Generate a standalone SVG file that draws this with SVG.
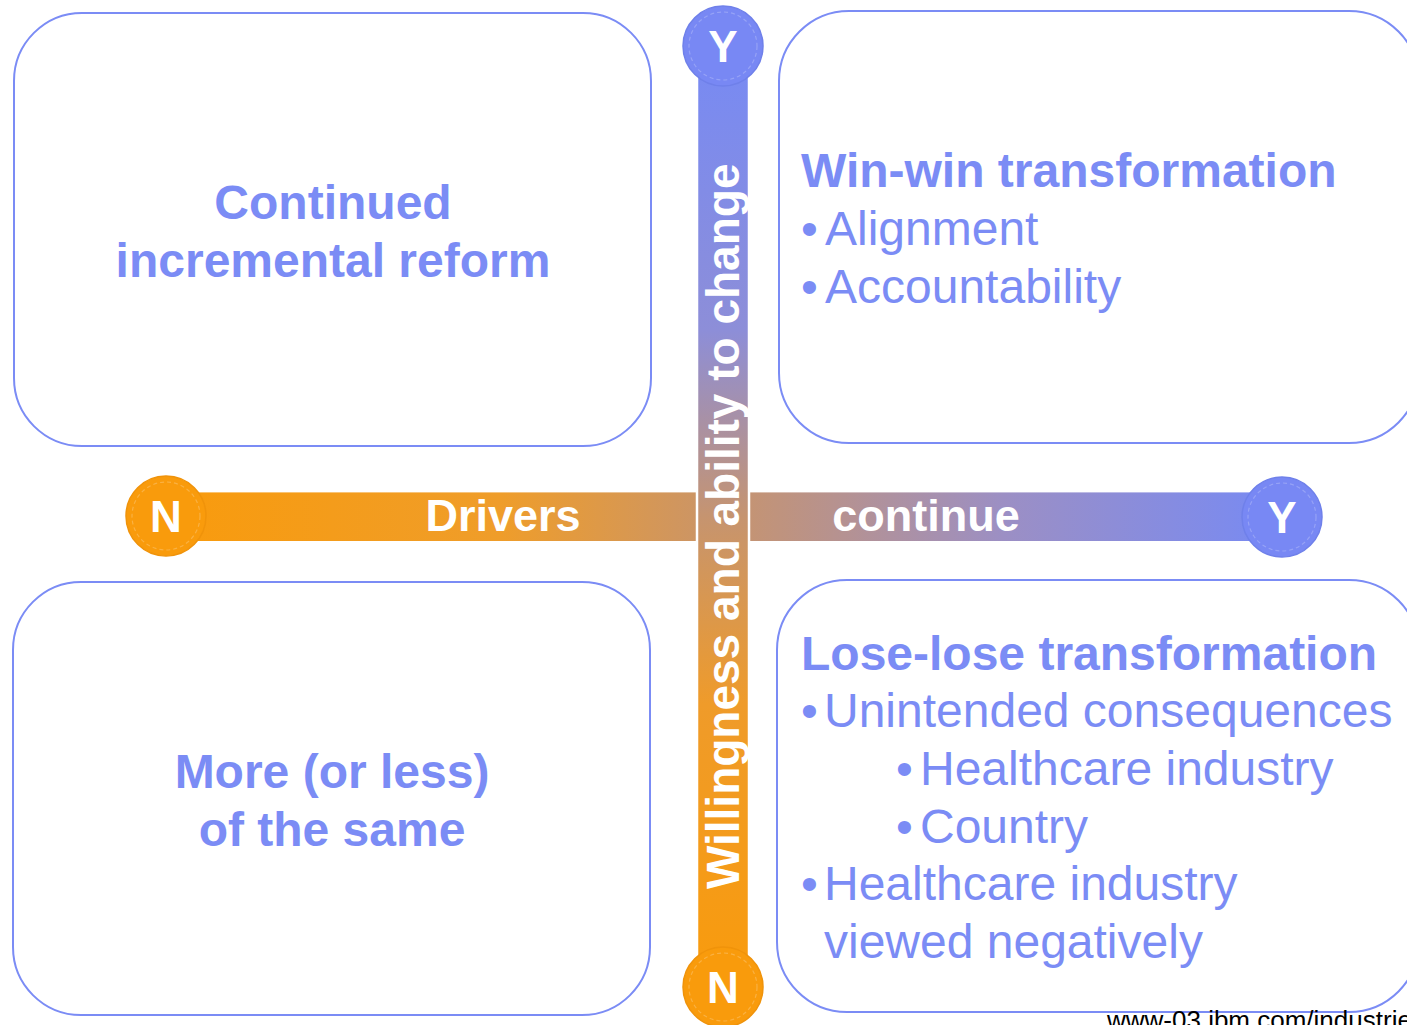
<svg xmlns="http://www.w3.org/2000/svg" width="1407" height="1025" viewBox="0 0 1407 1025">
<defs>
<linearGradient id="hgrad" x1="165" y1="0" x2="1282" y2="0" gradientUnits="userSpaceOnUse">
<stop offset="0" stop-color="#f99b0c"/>
<stop offset="0.3" stop-color="#ef9d2a"/>
<stop offset="0.5" stop-color="#c8946c"/>
<stop offset="0.75" stop-color="#9c8fc4"/>
<stop offset="1" stop-color="#778af4"/>
</linearGradient>
<linearGradient id="vgrad" x1="0" y1="50" x2="0" y2="985" gradientUnits="userSpaceOnUse">
<stop offset="0" stop-color="#778af4"/>
<stop offset="0.3" stop-color="#8d8ed8"/>
<stop offset="0.5" stop-color="#c6946f"/>
<stop offset="0.7" stop-color="#ef9b2a"/>
<stop offset="1" stop-color="#f99b0c"/>
</linearGradient>
<style>
.box{fill:#fff;stroke:#7b8cf5;stroke-width:2}
.title{font-family:"Liberation Sans",Arial,sans-serif;font-weight:bold;font-size:48px;fill:#7b8cf5}
.item{font-family:"Liberation Sans",Arial,sans-serif;font-size:48px;fill:#7b8cf5}
.lab{font-family:"Liberation Sans",Arial,sans-serif;font-weight:bold;font-size:45px;fill:#fff}
.vlab{font-family:"Liberation Sans",Arial,sans-serif;font-weight:bold;font-size:46px;fill:#fff}
.cl{font-family:"Liberation Sans",Arial,sans-serif;font-weight:bold;font-size:44px;fill:#fff;text-anchor:middle}
.ring{fill:none;stroke:#fff;stroke-opacity:0.22;stroke-width:1.2;stroke-dasharray:4 3}
.yc{fill:#7888f4;stroke:#6f80ea;stroke-width:1.5}
.nc{fill:#f99b0c;stroke:#f0930a;stroke-width:1.5}
</style>
</defs>
<rect width="1407" height="1025" fill="#fff"/>

<g id="box-top-left">
<rect class="box" x="14" y="13" width="637" height="433" rx="68" ry="68"/>
<text class="title" x="333" y="219" text-anchor="middle">Continued</text>
<text class="title" x="333" y="277" text-anchor="middle">incremental reform</text>
</g>

<g id="box-top-right">
<rect class="box" x="779" y="11" width="640" height="432" rx="70" ry="70"/>
<text class="title" x="801" y="187">Win-win transformation</text>
<text class="item" x="801" y="245">•</text><text class="item" x="825" y="245">Alignment</text>
<text class="item" x="801" y="303">•</text><text class="item" x="825" y="303">Accountability</text>
</g>

<g id="box-bottom-left">
<rect class="box" x="13" y="582" width="637" height="433" rx="68" ry="68"/>
<text class="title" x="332" y="788" text-anchor="middle">More (or less)</text>
<text class="title" x="332" y="846" text-anchor="middle">of the same</text>
</g>

<g id="box-bottom-right">
<rect class="box" x="777" y="580" width="642" height="432" rx="70" ry="70"/>
<text class="title" x="801" y="670">Lose-lose transformation</text>
<text class="item" x="801" y="727">•</text><text class="item" x="824" y="727">Unintended consequences</text>
<text class="item" x="896" y="785">•</text><text class="item" x="920" y="785">Healthcare industry</text>
<text class="item" x="896" y="843">•</text><text class="item" x="920" y="843">Country</text>
<text class="item" x="801" y="900">•</text><text class="item" x="824" y="900">Healthcare industry</text>
<text class="item" x="824" y="958">viewed negatively</text>
</g>

<g id="connectors">
<g id="axis-horizontal">
<rect x="165" y="492" width="1117" height="49" fill="url(#hgrad)"/>
<line x1="165" y1="492.5" x2="1282" y2="492.5" stroke="#fff" stroke-opacity="0.4" stroke-width="1"/>
<text class="lab" x="503" y="531" text-anchor="middle">Drivers</text>
<text class="lab" x="926" y="531" text-anchor="middle">continue</text>
</g>
<g id="axis-vertical">
<rect x="697" y="50" width="52" height="935" fill="url(#vgrad)" stroke="#fff" stroke-width="2.5"/>
<text class="vlab" transform="translate(739,889) rotate(-90)">Willingness and ability to change</text>
</g>
</g>

<g id="node-n-left">
<circle class="nc" cx="166" cy="516" r="40"/>
<circle class="ring" cx="166" cy="516" r="34"/>
<text class="cl" x="166" y="532">N</text>
</g>
<g id="node-y-right">
<circle class="yc" cx="1282" cy="517" r="40"/>
<circle class="ring" cx="1282" cy="517" r="34"/>
<text class="cl" x="1282" y="533">Y</text>
</g>
<g id="node-y-top">
<circle class="yc" cx="723" cy="46" r="40"/>
<circle class="ring" cx="723" cy="46" r="34"/>
<text class="cl" x="723" y="62">Y</text>
</g>
<g id="node-n-bottom">
<circle class="nc" cx="723" cy="987" r="40"/>
<circle class="ring" cx="723" cy="987" r="34"/>
<text class="cl" x="723" y="1003">N</text>
</g>

<g id="source">
<text x="1107" y="1029" font-family="'Liberation Sans',Arial,sans-serif" font-size="26" fill="#000">www-03.ibm.com/industries</text>
</g>
</svg>
